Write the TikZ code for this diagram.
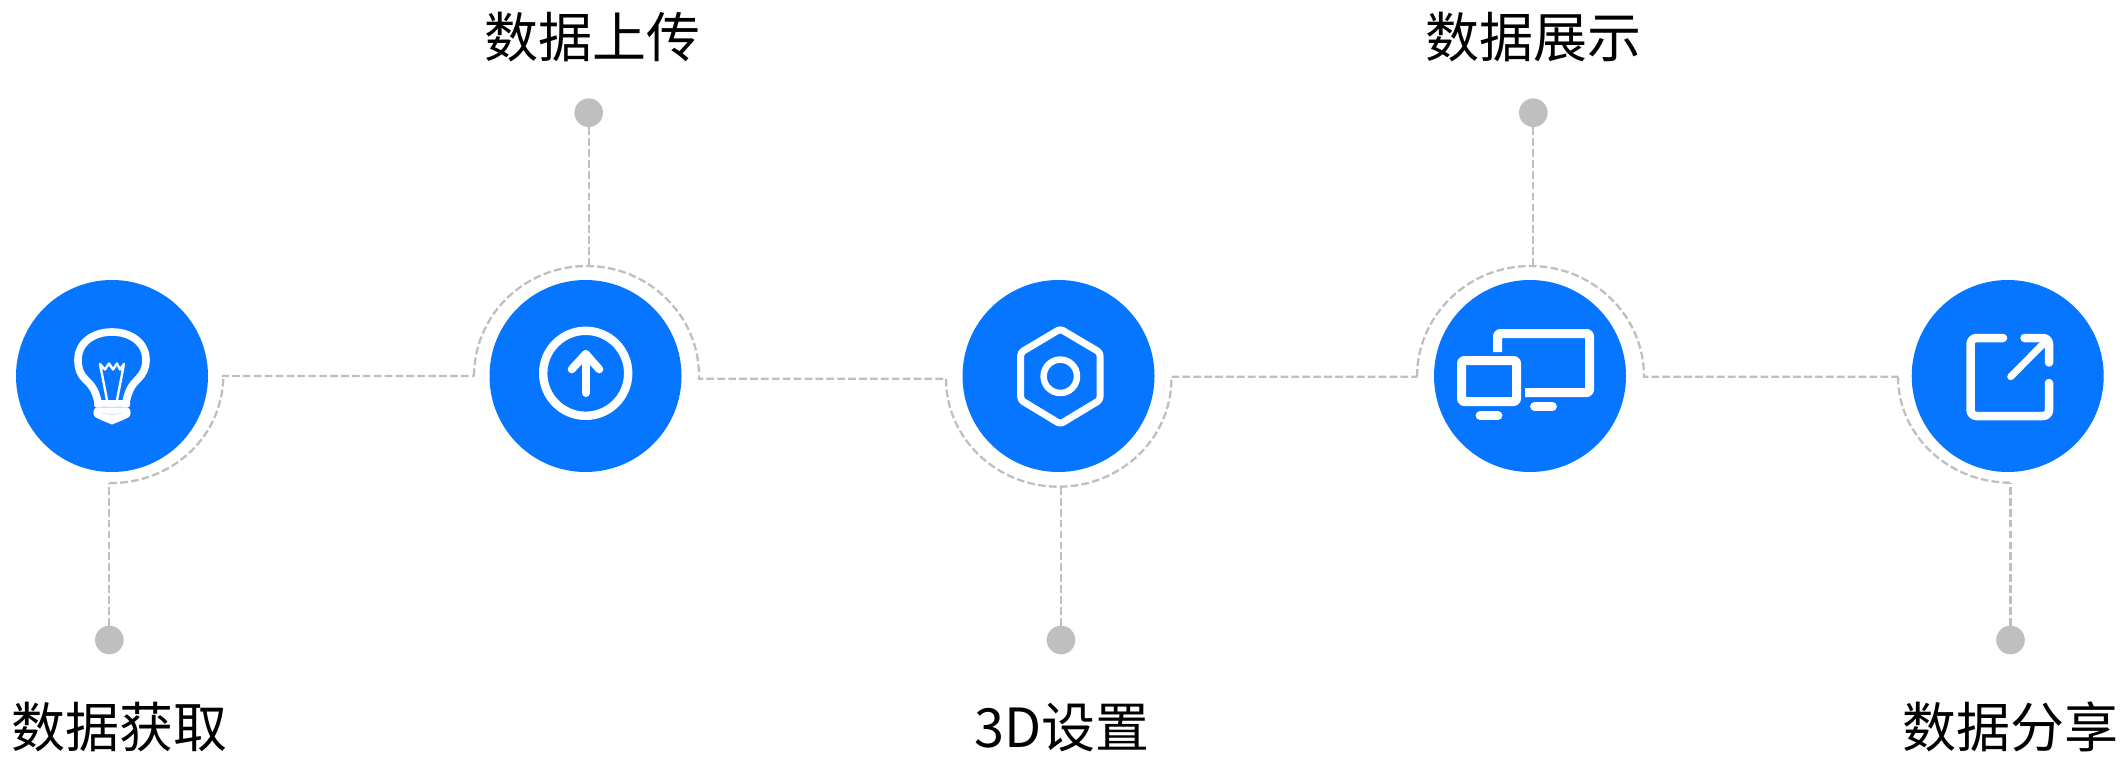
\documentclass[tikz,border=0pt]{standalone}
\usepackage{fontspec}
\setmainfont{Noto Sans CJK SC}
\usepackage{tikz}
\definecolor{iconblue}{HTML}{0675FF}
\definecolor{linkgray}{HTML}{BFBFBF}

\begin{document}
\begin{tikzpicture}[x=1pt, y=-1pt,
    stage/.style={circle, fill=iconblue, minimum size=192pt, inner sep=0pt},
    dot/.style={circle, fill=linkgray, minimum size=28.6pt, inner sep=0pt},
    caption/.style={anchor=base, inner sep=0pt, font=\fontsize{54}{60}\selectfont},
    link/.style={draw=linkgray, line width=2.3pt, dash pattern=on 7.7pt off 3.2pt},
    iconline/.style={draw=white, line width=7pt, line cap=round, line join=round}]
    \useasboundingbox (0,0) rectangle (2122,757);

    % Draw the blue circles
    \foreach \i/\x in {1/112, 2/585.5, 3/1058.5, 4/1530, 5/2007.7}
        \node[stage] (Stage\i) at (\x,376) {};

    % Draw the gray dots
    \foreach \i/\x/\y in {1/109.3/640, 2/588.7/112.7, 3/1061/640, 4/1533.3/112.7, 5/2010.5/640}
        \node[dot] (Dot\i) at (\x,\y) {};

    % Define coordinates for the line joints
    \coordinate (P1) at (109.3,483);
    \coordinate (P2) at (222,376);
    \coordinate (P3) at (474,376);
    \coordinate (P4) at (699,378.7);
    \coordinate (P5) at (946,378.7);
    \coordinate (P6) at (1171.5,376.7);
    \coordinate (P7) at (1417,376.7);
    \coordinate (P8) at (1644,376.7);
    \coordinate (P9) at (1898,376.7);
    \coordinate (T2) at (588.7,266);
    \coordinate (T3) at (1061,486.5);
    \coordinate (T4) at (1533.3,266);
    \coordinate (T5) at (2010.5,482.7);

    % Connect the dots to the arcs
    \draw[link] (Dot1) -- (P1);
    \draw[link] (Dot2) -- (T2);
    \draw[link] (Dot3) -- (T3);
    \draw[link] (Dot4) -- (T4);
    \draw[link] (Dot5) -- (T5);

    % Arcs round the circles and the lines between them
    \draw[link] (P1) arc[start angle=91, end angle=0, x radius=112, y radius=107] -- (P2) -- (P3);
    \draw[link] (P3) arc[start angle=180, end angle=360, x radius=112.5, y radius=110] -- (P4) -- (P5);
    \draw[link] (P5) arc[start angle=180, end angle=0, x radius=112.7, y radius=108] -- (P6) -- (P7);
    \draw[link] (P7) arc[start angle=180, end angle=360, x radius=113.5, y radius=110.7] -- (P8) -- (P9);
    \draw[link] (P9) arc[start angle=180, end angle=90, x radius=112.5, y radius=106] -- (T5);

    % Bulb icon
    \draw[iconline, line width=7.6pt] (98,402) .. controls (95,388) and (90,384) .. (85,379) .. controls (80,374) and (78,368) .. (78,360) .. controls (78,342) and (94,332) .. (112,332) .. controls (130,332) and (146,342) .. (146,360) .. controls (146,368) and (143,374) .. (138,379) .. controls (133,384) and (129,388) .. (126,402);
    \draw[draw=white, line width=2.4pt, line join=round] (107,400) -- (100,364) -- (105,369.5) -- (109,363.5) -- (113,369.5) -- (117,363.5) -- (120,369.5) -- (124,364) -- (117,400);
    \fill[white, rounded corners=2.5pt] (94,400) rectangle (130,407.5);
    \fill[white] (96,407.5) -- (128,407.5) .. controls (131,409) and (131.5,415) .. (129,417) .. controls (124,420) and (118,422) .. (112,424.5) .. controls (106,422) and (100,420) .. (95,417) .. controls (92.5,415) and (93,409) .. (96,407.5) -- cycle;
    \draw[iconblue!25, line width=0.6pt] (102,406) .. controls (108,408) and (116,408) .. (122,406);
    \draw[iconblue!25, line width=0.6pt] (102,413) .. controls (108,415) and (116,415) .. (122,413);

    % Upload icon
    \draw[iconline, line width=8.4pt] (585.7,373.3) circle[radius=42.5];
    \draw[iconline, line width=8pt] (585.7,393) -- (585.7,354);
    \draw[iconline, line width=8pt] (571.7,369.3) -- (585.7,354) -- (599.3,369.3);

    % Nut icon
    \draw[iconline, rounded corners=3pt] (1060.3,329) -- (1100,352.5) -- (1100,400) -- (1060.3,424) -- (1020.7,400) -- (1020.7,352.5) -- cycle;
    \draw[iconline, line width=6.5pt] (1060.3,376.3) circle[radius=16.7];

    % Monitors icon
    \draw[iconline, line width=9pt, line cap=butt, rounded corners=2.5pt] (1497.5,352) -- (1497.5,333.5) -- (1589.5,333.5) -- (1589.5,392.5) -- (1525,392.5);
    \draw[iconline, line width=9pt, rounded corners=2.5pt] (1461.5,360.5) rectangle (1516.5,401.5);
    \draw[iconline, line width=8.8pt] (1534.5,406.5) -- (1552.5,406.5);
    \draw[iconline, line width=8.8pt] (1480,415.5) -- (1498,415.5);

    % Share icon
    \draw[iconline, line width=8.5pt, rounded corners=6pt] (2003,338) -- (1970.5,338) -- (1970.5,416) -- (2049,416) -- (2049,383);
    \draw[iconline, line width=8.5pt, rounded corners=6pt] (2024.5,338) -- (2049,338) -- (2049,362.5);
    \draw[iconline] (2010.7,376.7) -- (2045,342);

    % Label the steps
    \node[caption] (Label1) at (119,747) {数据获取};
    \node[caption] (Label2) at (592,58) {数据上传};
    \node[caption] (Label3) at (1062,747) {3D设置};
    \node[caption] (Label4) at (1533,58) {数据展示};
    \node[caption] (Label5) at (2010,747) {数据分享};

\end{tikzpicture}
\end{document}
